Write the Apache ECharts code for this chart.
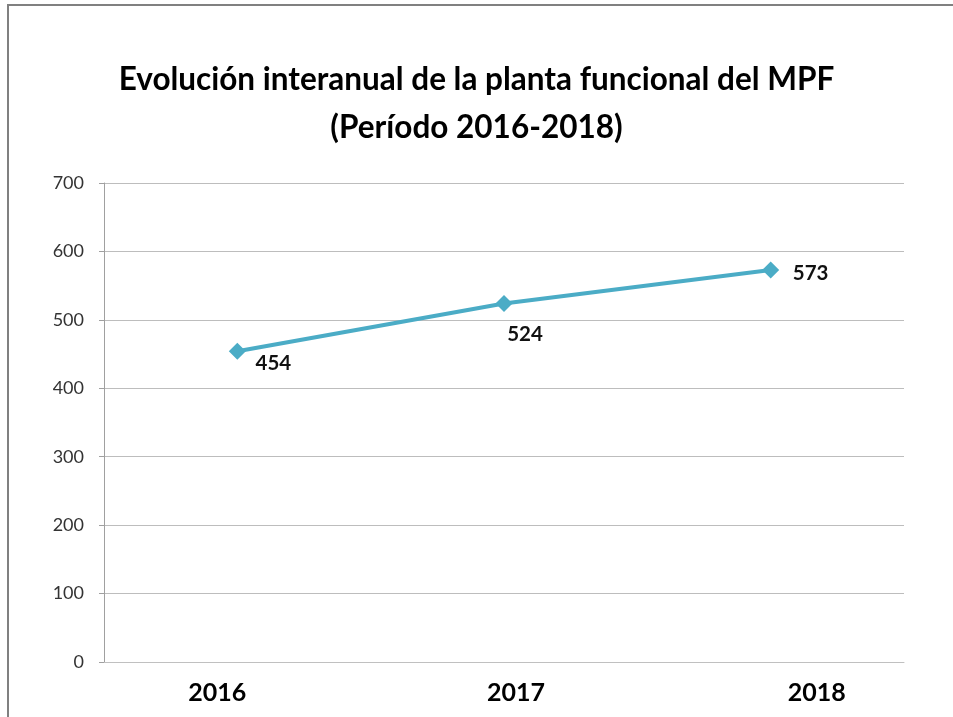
<!DOCTYPE html>
<html>
<head>
<meta charset="utf-8">
<script src="https://cdn.jsdelivr.net/npm/echarts@6/dist/echarts.min.js"></script>
<style>
  html, body { margin: 0; padding: 0; background: #fff; }
  #chart { width: 953px; height: 717px; }
</style>
</head>
<body>
<div id="chart"></div>
<script>
// datos
const years = ['2016', '2017', '2018'];
const planta = [454, 524, 573];
const yTicks = [0, 100, 200, 300, 400, 500, 600, 700];

const chart = echarts.init(document.getElementById('chart'));

// desplazamientos de etiquetas (estilo, no datos)
const labelOffsets = [[36, 12], [21, 31], [40, 3]];
const yearPad = {'2016': [0, 40, 0, 0], '2017': [0, 0, 0, 24], '2018': [0, 0, 0, 92]};
const yearRich = {};
years.forEach((y, i) => {
  yearRich['y' + i] = {
    fontFamily: 'Lato', fontWeight: 'bold', fontSize: 25, color: '#000',
    padding: yearPad[y]
  };
});

const option = {
  backgroundColor: '#fff',
  animation: false,
  graphic: [{
    type: 'rect',
    shape: {x: 8, y: 5, width: 960, height: 730},
    style: {fill: 'none', stroke: '#808080', lineWidth: 2},
    silent: true
  }],
  title: {
    text: 'Evolución interanual de la planta funcional del MPF\n(Período 2016-2018)',
    left: 'center',
    top: 51,
    textStyle: {
      fontFamily: 'Lato', fontWeight: 'bold', fontSize: 31.5,
      color: '#000', lineHeight: 48
    }
  },
  grid: {left: 104, right: 49, top: 183, bottom: 55, containLabel: false},
  xAxis: {
    type: 'category',
    data: years,
    boundaryGap: true,
    axisLine: {show: true, lineStyle: {color: '#c0c0c0', width: 1}},
    axisTick: {show: false},
    axisLabel: {
      margin: 18,
      formatter: (v) => '{y' + years.indexOf(v) + '|' + v + '}',
      rich: yearRich
    }
  },
  yAxis: {
    type: 'value',
    min: yTicks[0],
    max: yTicks[yTicks.length - 1],
    interval: 100,
    axisLine: {show: true, lineStyle: {color: '#a0a0a0', width: 1}},
    axisTick: {show: true, length: 5, lineStyle: {color: '#a0a0a0'}},
    axisLabel: {
      margin: 20,
      fontFamily: 'Lato', fontSize: 18, color: '#333'
    },
    splitLine: {show: true, lineStyle: {color: '#bdbdbd', width: 1}}
  },
  series: [{
    type: 'line',
    data: planta.map((v, i) => ({
      value: v,
      label: {offset: labelOffsets[i]}
    })),
    symbol: 'diamond',
    symbolSize: 17,
    lineStyle: {color: '#4bacc6', width: 4},
    itemStyle: {color: '#4bacc6'},
    label: {
      show: true,
      position: 'inside',
      fontFamily: 'Lato', fontWeight: 'bold', fontSize: 20.5, color: '#111'
    }
  }]
};

chart.setOption(option);
</script>
</body>
</html>
